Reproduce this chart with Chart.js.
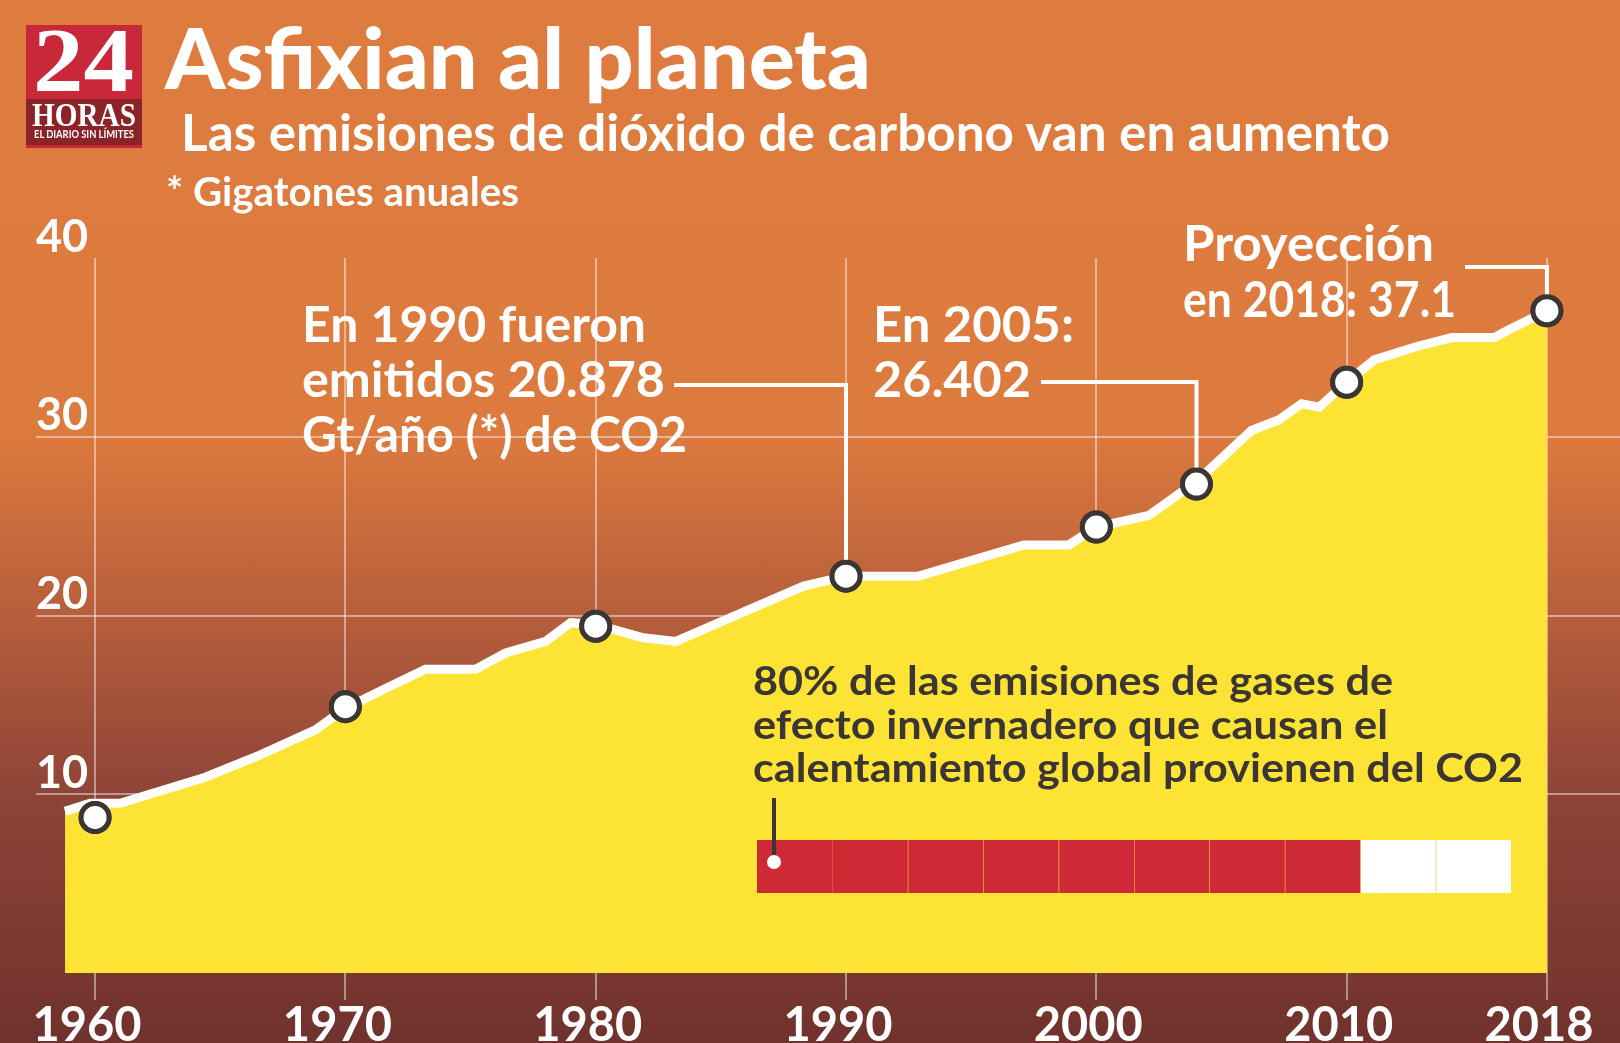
<!DOCTYPE html>
<html lang="es">
<head>
<meta charset="utf-8">
<title>Asfixian al planeta</title>
<script src="https://cdn.jsdelivr.net/npm/chart.js@4.4.1/dist/chart.umd.min.js"></script>
<style>
  html, body { margin: 0; padding: 0; }
  body {
    width: 1620px; height: 1043px; overflow: hidden; position: relative;
    background: linear-gradient(to bottom, #de7b3f 0px, #dd7a3e 430px, #b65e3c 617px, #8e4437 795px, #70322d 1043px);
    font-family: Lato, 'Open Sans', sans-serif;
  }
  #main { position: absolute; left: 0; top: 0; z-index: 0; }
  #cells { position: absolute; left: 757px; top: 840px; width: 754px; height: 53px; z-index: 1; }
  .t { position: absolute; white-space: nowrap; line-height: 1.2; transform-origin: 0 0; color: #fff; z-index: 2; }
  .title { font-size: 84px; font-weight: 900; }
  .sub { font-size: 51px; font-weight: 700; }
  .unit { font-size: 40px; font-weight: 700; }
  .note { font-size: 50px; font-weight: 700; }
  .dark { font-size: 40px; font-weight: 700; color: #3b3633; }
  #logo { position: absolute; left: 26px; top: 25px; width: 116px; height: 123px; background: #c8283a; z-index: 2; }
  #logo .bot { position: absolute; left: 0; top: 74px; width: 116px; height: 46px; background: #8a2429; }
  .serif { font-family: 'Liberation Serif', 'DejaVu Serif', serif; line-height: 1.107; }
  #pointer { position: absolute; left: 772px; top: 798px; width: 4px; height: 64px; background: #3b3633; z-index: 3; }
  #dot { position: absolute; left: 767px; top: 855px; width: 14px; height: 14px; border-radius: 50%; background: #fff; z-index: 3; }
</style>
</head>
<body>
<canvas id="main" width="1620" height="1043"></canvas>
<div id="cells"><canvas id="cellsCanvas"></canvas></div>

<div id="logo">
  <div class="bot"></div>
</div>
<div class="t serif" style="left:33px; top:11px; font-size:90px; font-weight:700;" data-w="101">24</div>
<div class="t serif" style="left:32px; top:97px; font-size:33px; font-weight:700;" data-w="104">HORAS</div>
<div class="t" style="left:34px; top:127px; font-size:11px; font-weight:700;" data-w="100">EL DIARIO SIN LÍMITES</div>

<div class="t title" style="left:165px; top:7px;" data-w="706">Asfixian al planeta</div>
<div class="t sub" style="left:181px; top:101px;" data-w="1209">Las emisiones de dióxido de carbono van en aumento</div>
<div class="t unit" style="left:166px; top:167px;" data-w="353">* Gigatones anuales</div>

<div class="t note" style="left:302px; top:293px;" data-w="344">En 1990 fueron</div>
<div class="t note" style="left:302px; top:348px;" data-w="363">emitidos 20.878</div>
<div class="t note" style="left:302px; top:403px;" data-w="385">Gt/año (*) de CO2</div>

<div class="t note" style="left:873px; top:293px;" data-w="201">En 2005:</div>
<div class="t note" style="left:873px; top:348px;" data-w="158">26.402</div>

<div class="t note" style="left:1183px; top:212px;" data-w="251">Proyección</div>
<div class="t note" style="left:1183px; top:268px;" data-w="273">en 2018: 37.1</div>

<div class="t dark" style="left:753px; top:656px;" data-w="640">80% de las emisiones de gases de</div>
<div class="t dark" style="left:753px; top:700px;" data-w="635">efecto invernadero que causan el</div>
<div class="t dark" style="left:753px; top:743px;" data-w="770">calentamiento global provienen del CO2</div>

<div id="pointer"></div>
<div id="dot"></div>

<script>
// Emisiones anuales de CO2 (Gt)
const lineYears = [1958.8, 1959.8, 1961.0, 1964.4, 1966.6, 1968.8, 1970.0, 1971.5, 1973.2, 1975.2,
  1976.4, 1978.0, 1979.0, 1980.0, 1981.9, 1983.2, 1988.3, 1990.0, 1992.9, 1997.1,
  1998.9, 2000.0, 2002.1, 2004.0, 2006.2, 2007.3, 2008.2, 2008.9, 2010.0, 2011.1,
  2012.8, 2014.2, 2015.9, 2016.5, 2018.0];
const lineValues = [9.05, 9.5, 9.5, 10.95, 12.2, 13.6, 14.8, 15.85, 17.0, 17.0,
  17.9, 18.55, 19.6, 19.5, 18.75, 18.55, 21.65, 22.2, 22.2, 23.95,
  23.95, 24.95, 25.6, 27.5, 30.35, 30.95, 31.85, 31.65, 33.05, 34.3,
  35.05, 35.55, 35.55, 36.0, 37.05];

// Puntos destacados
const markerYears = [1960, 1970, 1980, 1990, 2000, 2004, 2010, 2018];
const markerValues = [8.7, 14.9, 19.4, 22.2, 24.95, 27.35, 33.05, 37.05];

const xTickYears = [1960, 1970, 1980, 1990, 2000, 2010, 2018];
const yTickValues = [0, 10, 20, 30, 40];

// 80% de los gases de efecto invernadero, en 10 casillas
const co2Share = 80;
const cellCount = 10;

const YELLOW = '#fde334';
const GRID = 'rgba(255,255,255,0.45)';
const DARK = '#3b3633';

// líneas guía de los textos hacia los puntos (índice del punto + arranque)
const callouts = [
  { marker: 3, fromX: 674, fromY: 385 },
  { marker: 5, fromX: 1041, fromY: 382 },
  { marker: 7, fromX: 1465, fromY: 267 },
];

Chart.defaults.font.family = 'Lato';
Chart.defaults.font.weight = 'bold';
Chart.defaults.color = '#fff';

const calloutLines = {
  id: 'calloutLines',
  afterDraw(chart) {
    const { ctx, scales: { x, y } } = chart;
    ctx.save();
    ctx.strokeStyle = '#fff';
    ctx.lineWidth = 4;
    callouts.forEach(c => {
      const px = x.getPixelForValue(markerYears[c.marker]);
      const py = y.getPixelForValue(markerValues[c.marker]);
      ctx.beginPath();
      ctx.moveTo(c.fromX, c.fromY);
      ctx.lineTo(px, c.fromY);
      ctx.lineTo(px, py);
      ctx.stroke();
    });
    ctx.restore();
    // los círculos van por encima de la cuadrícula y de las guías
    chart.getDatasetMeta(0).controller.draw();
  }
};

new Chart(document.getElementById('main'), {
  type: 'line',
  data: {
    datasets: [
      {
        data: markerYears.map((yr, i) => ({ x: yr, y: markerValues[i] })),
        showLine: false,
        pointRadius: 14,
        pointBorderWidth: 5,
        pointBackgroundColor: '#fff',
        pointBorderColor: DARK,
      },
      {
        data: lineYears.map((yr, i) => ({ x: yr, y: lineValues[i] })),
        borderColor: '#fff',
        borderWidth: 9,
        backgroundColor: YELLOW,
        fill: 'origin',
        tension: 0,
        pointRadius: 0,
      },
    ],
  },
  options: {
    responsive: false,
    animation: false,
    events: [],
    layout: { autoPadding: false, padding: { top: 258, left: 0, right: 0, bottom: 0 } },
    plugins: {
      legend: { display: false },
      tooltip: { enabled: false },
    },
    scales: {
      x: {
        type: 'linear',
        min: 1957.64,
        max: 2020.92,
        z: 1,
        afterBuildTicks(scale) {
          scale.ticks = xTickYears.map(v => ({ value: v }));
        },
        afterFit(scale) {
          scale.height = 70;
          scale.paddingLeft = 0;
          scale.paddingRight = 0;
        },
        border: { display: false },
        grid: { color: GRID, lineWidth: 2, tickLength: 27, tickColor: GRID },
        ticks: {
          padding: 2,
          labelOffset: -8,
          maxRotation: 0,
          font: { size: 47, weight: 'bold', lineHeight: 1 },
          callback: v => String(v),
        },
      },
      y: {
        min: 0,
        max: 40,
        z: 1,
        afterBuildTicks(scale) {
          scale.ticks = yTickValues.map(v => ({ value: v }));
        },
        afterFit(scale) {
          scale.width = 36;
          scale.paddingTop = 0;
          scale.paddingBottom = 0;
        },
        border: { display: false },
        grid: {
          drawTicks: false,
          lineWidth: 2,
          color: c => (c.tick && c.tick.value > 0 && c.tick.value < 40) ? GRID : 'rgba(0,0,0,0)',
        },
        ticks: {
          mirror: true,
          padding: 0,
          labelOffset: -21,
          font: { size: 45, weight: 'bold' },
          callback: v => (v === 0 ? '' : String(v)),
        },
      },
    },
  },
  plugins: [calloutLines],
});

// recuadro de 10 casillas
const cellSets = [];
for (let i = 0; i < cellCount; i++) {
  const filled = (i + 1) * (100 / cellCount) <= co2Share;
  cellSets.push({
    data: [100 / cellCount],
    backgroundColor: filled ? '#ce2936' : '#ffffff',
    borderColor: '#f2b53c',
    borderWidth: { left: i === 0 ? 0 : 1, right: 0, top: 0, bottom: 0 },
    borderSkipped: false,
    barPercentage: 1,
    categoryPercentage: 1,
  });
}

new Chart(document.getElementById('cellsCanvas'), {
  type: 'bar',
  data: { labels: ['CO2'], datasets: cellSets },
  options: {
    indexAxis: 'y',
    responsive: true,
    maintainAspectRatio: false,
    animation: false,
    events: [],
    layout: { padding: 0 },
    plugins: { legend: { display: false }, tooltip: { enabled: false } },
    scales: {
      x: { display: false, stacked: true, min: 0, max: 100 },
      y: { display: false, stacked: true },
    },
  },
});

// ajustar el ancho de los textos al original
document.querySelectorAll('[data-w]').forEach(el => {
  const w = el.getBoundingClientRect().width;
  if (w > 0) el.style.transform = `scaleX(${el.dataset.w / w})`;
});
</script>
</body>
</html>
